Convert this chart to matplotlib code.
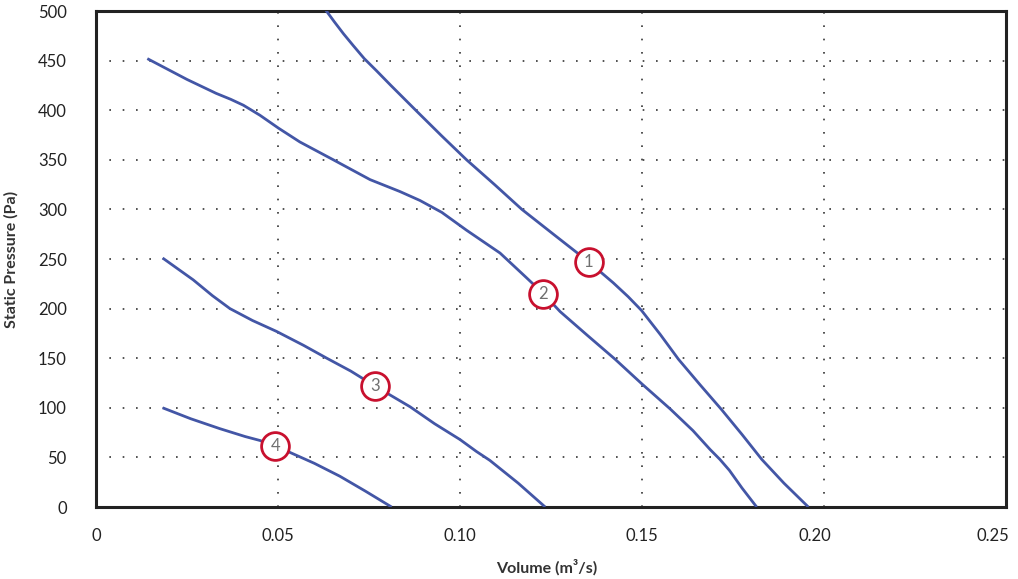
import matplotlib
matplotlib.use("Agg")
import matplotlib.pyplot as plt
import matplotlib.transforms as mtransforms

# Fan curves: volume (m3/s) vs static pressure (Pa)
curve1_x = [0.0631, 0.0655, 0.0680, 0.0707, 0.0737, 0.0770, 0.0810, 0.0881, 0.0950, 0.1018, 0.1095, 0.1170, 0.1260, 0.1354, 0.1421, 0.1462, 0.1499, 0.1550, 0.1600, 0.1660, 0.1719, 0.1775, 0.1829, 0.1890, 0.1957]
curve1_y = [501, 489, 477, 465, 452, 440, 425, 399, 374, 350, 325, 300, 274, 247, 226, 212, 198, 174, 149, 123, 98, 73, 48, 24, 0]

curve2_x = [0.0141, 0.0250, 0.0330, 0.0370, 0.0405, 0.0450, 0.0501, 0.0560, 0.0652, 0.0753, 0.0835, 0.0890, 0.0950, 0.1018, 0.1110, 0.1183, 0.1229, 0.1275, 0.1350, 0.1426, 0.1500, 0.1577, 0.1640, 0.1687, 0.1714, 0.1740, 0.1775, 0.1815]
curve2_y = [452, 431, 417, 411, 405, 395, 382, 368, 350, 330, 318, 309, 297, 279, 256, 231, 215, 197, 173, 149, 124, 99, 77, 58, 48, 37, 19, 0]

curve3_x = [0.0183, 0.0225, 0.0267, 0.0320, 0.0368, 0.0430, 0.0496, 0.0570, 0.0634, 0.0700, 0.0766, 0.0863, 0.0930, 0.1000, 0.1045, 0.1082, 0.1160, 0.1234]
curve3_y = [251, 240, 229, 213, 200, 188, 177, 163, 150, 137, 122, 101, 84, 68, 56, 47, 24, 0]

curve4_x = [0.0183, 0.0260, 0.0340, 0.0410, 0.0451, 0.0492, 0.0533, 0.0600, 0.0670, 0.0740, 0.0812]
curve4_y = [100, 89, 79, 71, 67, 61, 55, 44, 31, 16, 0]

label_x = [0.1354, 0.1229, 0.0766, 0.0492]
label_y = [247, 215, 122, 61]
labels = ["1", "2", "3", "4"]

x_ticks = [0, 0.05, 0.10, 0.15, 0.20, 0.25]
x_ticklabels = ["0", "0.05", "0.10", "0.15", "0.20", "0.25"]
y_ticks = [0, 50, 100, 150, 200, 250, 300, 350, 400, 450, 500]

BLUE = "#4356a6"
RED = "#c8102e"

plt.rcParams['font.family'] = ['Lato', 'DejaVu Sans']

fig = plt.figure(figsize=(10.18, 5.79), dpi=100)
ax = fig.add_axes([96/1018, 72/579, 910/1018, 496/579])

for xs, ys in [(curve1_x, curve1_y), (curve2_x, curve2_y), (curve3_x, curve3_y), (curve4_x, curve4_y)]:
    ax.plot(xs, ys, color=BLUE, lw=2.0, solid_capstyle='butt', solid_joinstyle='round', zorder=3)

for lx, ly, t in zip(label_x, label_y, labels):
    ax.plot(lx, ly, marker='o', markersize=20, markerfacecolor='white',
            markeredgecolor=RED, markeredgewidth=2.0, zorder=5, clip_on=False)
    ax.text(lx, ly, t, ha='center', va='center', fontsize=12, color='#707070', zorder=6)

ax.set_xlim(0, 0.25)
ax.set_ylim(0, 500)
ax.set_xticks(x_ticks)
ax.set_xticklabels(x_ticklabels)
ax.set_yticks(y_ticks)
ax.tick_params(axis='both', length=0, labelsize=12, colors='#222222')
ax.tick_params(axis='y', pad=21)
ax.tick_params(axis='x', pad=15)

# nudge the last two x tick labels left, as in the reference
shifts = {4: -9, 5: -13}
for i, lab in enumerate(ax.get_xticklabels()):
    if i in shifts:
        lab.set_transform(lab.get_transform() + mtransforms.ScaledTranslation(shifts[i] / 100, 0, fig.dpi_scale_trans))

for v in x_ticks[1:-1]:
    ax.axvline(v, color='#333333', lw=1.2, linestyle=(0, (1, 7)), zorder=1)
for v in y_ticks[1:-1]:
    ax.axhline(v, color='#333333', lw=1.2, linestyle=(0, (1, 7)), zorder=1)

for s in ax.spines.values():
    s.set_linewidth(2.2)
    s.set_color('#222222')

ax.set_xlabel("Volume (m³/s)", fontsize=11.5, fontweight='bold', color='#333333', labelpad=10)
ax.xaxis.set_label_coords(0.495, -0.105)
ax.set_ylabel("Static Pressure (Pa)", fontsize=11.5, fontweight='bold', color='#333333', labelpad=14)
ax.yaxis.set_label_coords(-0.085, 0.5)

fig.savefig("out.png", dpi=100)
